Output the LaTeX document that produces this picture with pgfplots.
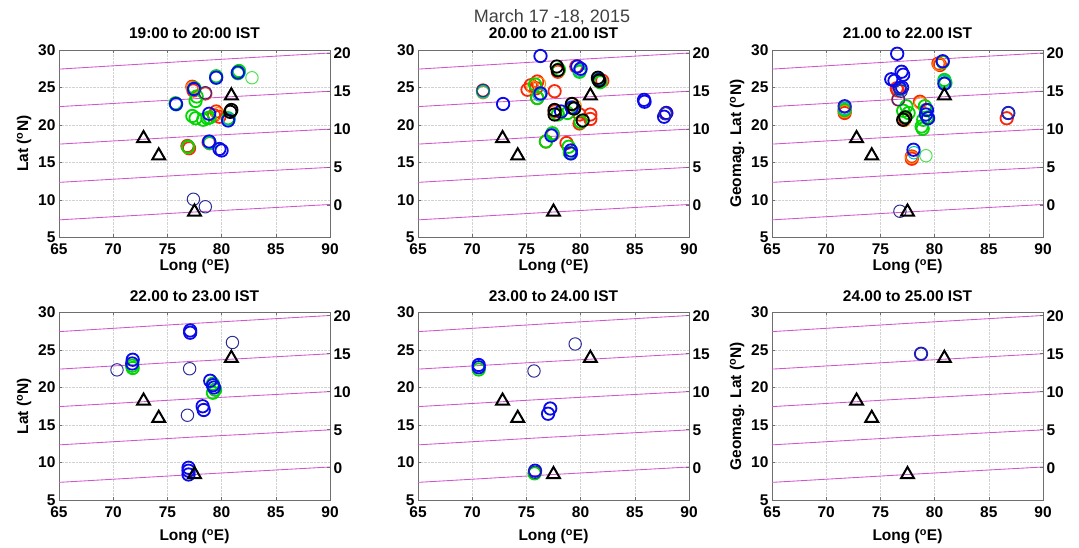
\documentclass[border=0pt]{standalone}
\usepackage{pgfplots}
\pgfplotsset{compat=1.18}
\usepackage{fontspec}
\setmainfont{Liberation Sans}
\definecolor{cred}{RGB}{250,40,10}
\definecolor{corange}{RGB}{255,140,0}
\definecolor{cgreen}{RGB}{0,215,0}
\definecolor{ccyan}{RGB}{0,185,185}
\definecolor{cblue}{RGB}{10,10,235}
\definecolor{cnavy}{RGB}{45,45,150}
\definecolor{cmag}{RGB}{210,85,205}
\definecolor{frame}{RGB}{110,110,110}
\newcommand{\fs}{\fontsize{15.5}{18}\selectfont}
\pgfplotsset{
  base/.style={scale only axis, width=271pt, height=187.5pt,
    xmin=65, xmax=90, ymin=5, ymax=30,
    xtick={65,70,...,90}, ytick={5,10,...,30},
    grid=major, grid style={densely dotted, gray!35},
    axis line style={frame, line width=0.9pt},
    tick style={frame, line width=0.6pt}, tick align=inside,
    major tick length=3pt,
    ytick pos=left, xtick pos=both, xticklabel pos=bottom,
    /pgf/number format/assume math mode=true,
    tick label style={font=\fs\bfseries},
    xticklabel style={yshift=-3pt},
    label style={font=\fs\bfseries},
    title style={font=\fs\bfseries, at={(axis description cs:0.5,1)}, anchor=base, yshift=5pt},
    ylabel style={at={(axis description cs:-0.129,0.5)}, anchor=center, rotate=0},
    clip=false},
  toprow/.style={xlabel style={at={(axis description cs:0.5,-0.155)}, anchor=center}},
  botrow/.style={xlabel style={at={(axis description cs:0.5,-0.197)}, anchor=center}},
  rightax/.style={scale only axis, width=271pt, height=187.5pt,
    xmin=65, xmax=90, ymin=-4.245, ymax=20.43,
    axis y line*=right, axis x line=none, ytick={0,5,...,20},
    axis line style={frame, line width=0.9pt},
    tick style={frame, line width=0.6pt}, tick align=inside, major tick length=3pt,
    /pgf/number format/assume math mode=true,
    tick label style={font=\fs\bfseries}},
  mag/.style={color=cmag, line width=0.85pt, no marks},
  tri/.style={only marks, mark=triangle, mark size=7.5pt, mark options={black, line width=2pt}},
  circ/.style={only marks, mark=o, mark size=6.2pt, mark options={#1, line width=1.8pt}},
  thin/.style={only marks, mark=o, mark size=6.2pt, mark options={#1, line width=1pt}},
}
\newcommand{\maglines}{%
  \addplot[mag] coordinates {(65,27.45) (77.5,28.55) (90,29.6)};
  \addplot[mag] coordinates {(65,22.45) (77.5,23.5) (90,24.5)};
  \addplot[mag] coordinates {(65,17.45) (77.5,18.5) (90,19.45)};
  \addplot[mag] coordinates {(65,12.35) (77.5,13.4) (90,14.35)};
  \addplot[mag] coordinates {(65,7.35) (77.5,8.4) (90,9.4)};
}
\newcommand{\tris}{%
  \addplot[tri] coordinates {(72.8,18.2) (74.2,15.9) (77.5,8.4) (80.9,23.9)};
}
\begin{document}
\begin{tikzpicture}
\path[use as bounding box] (0,0) rectangle (1079pt,548pt);
\node[font=\fontsize{18}{20}\selectfont, text=black!75] at (552pt,531pt) {March 17 -18, 2015};

% ---------- Panel 1 ----------
\begin{axis}[base, toprow, at={(59pt,310.5pt)}, anchor=south west,
  title={19:00 to 20:00 IST}, xlabel={Long (\textsuperscript{o}E)}, ylabel={Lat (\textsuperscript{o}N)}]
\maglines
\addplot[circ=cred] coordinates {(79.5,21.8) (79.8,21.1) (79.3,21.3) (76.85,17.2) (77.0,16.9) (77.3,25.1) (78.5,24.2) (78.8,17.7) (77.4,24.6)};
\addplot[thin=corange] coordinates {(77.3,25.0) (79.6,21.5) (76.9,17.0) (78.9,17.5)};
\addplot[circ=cgreen] coordinates {(75.75,22.9) (77.5,24.9) (77.7,23.8) (77.6,23.2) (77.6,20.9) (78.7,20.9) (78.3,20.7) (76.9,17.1) (79.5,26.5) (81.6,27.2) (81.5,26.9) (80.6,20.9) (77.3,21.2) (78.9,17.6) (78.9,21.0)};
\addplot[thin=cgreen!70] coordinates {(82.8,26.3)};
\addplot[thin=ccyan] coordinates {(75.8,22.7) (79.5,26.4) (80.7,20.8) (78.9,17.6) (81.6,27.0)};
\addplot[circ=cblue] coordinates {(77.45,24.8) (78.85,21.5) (79.8,16.8) (80.0,16.6) (78.85,17.8) (79.5,26.3) (81.5,27.0) (80.6,20.6) (75.8,22.8)};
\addplot[thin=cnavy] coordinates {(77.4,10.1) (78.5,9.1) (78.5,24.3)};
\addplot[circ=black] coordinates {(80.8,21.75) (80.9,22.0)};
\tris
\end{axis}
\begin{axis}[rightax, at={(59pt,310.5pt)}, anchor=south west]
\end{axis}

% ---------- Panel 2 ----------
\begin{axis}[base, toprow, at={(418pt,310.5pt)}, anchor=south west,
  title={20.00 to 21.00 IST}, xlabel={Long (\textsuperscript{o}E)}]
\maglines
\addplot[circ=cred] coordinates {(75.4,25.3) (75.1,24.7) (76.0,25.8) (75.9,24.9) (77.9,27.1) (77.6,24.5) (79.2,22.8) (79.9,21.4) (80.9,21.4) (80.9,20.8) (79.9,20.2) (78.7,17.6) (76.8,17.8) (79.6,27.8) (71.0,24.6) (87.9,21.6) (77.6,21.8) (76.0,23.6) (82.0,25.9)};
\addplot[thin=corange] coordinates {(75.6,25.0) (78.0,27.2) (80.0,27.4) (81.9,25.8) (77.5,18.7) (79.5,22.5) (71.0,24.3) (76.2,25.5)};
\addplot[circ=cgreen] coordinates {(71.0,24.5) (76.3,24.2) (76.0,23.6) (77.4,18.9) (76.8,17.8) (78.9,17.1) (79.0,16.3) (78.8,21.6) (77.9,21.4) (79.9,27.1) (81.6,26.1) (81.8,25.7) (79.4,22.2) (75.8,25.4) (80.0,20.4) (78.0,27.4)};
\addplot[thin=ccyan] coordinates {(71.0,24.4) (76.2,24.0) (77.4,18.7) (79.9,27.3) (81.8,25.9) (79.1,22.4)};
\addplot[circ=cblue] coordinates {(76.3,29.2) (72.85,22.8) (76.3,24.2) (79.1,16.6) (79.1,16.2) (77.3,18.6) (79.7,27.8) (80.0,27.5) (81.7,26.0) (85.85,23.35) (85.9,23.1) (87.7,21.1) (87.9,21.6) (79.2,22.3) (78.2,21.8)};
\addplot[circ=black] coordinates {(77.8,27.8) (77.9,27.3) (81.6,26.3) (81.7,25.9) (77.6,22.0) (77.6,21.4) (79.2,22.8) (79.4,22.2) (80.2,20.6)};
\addplot[thin=cnavy] coordinates {(71.0,24.6) (87.8,21.5)};
\tris
\end{axis}
\begin{axis}[rightax, at={(418pt,310.5pt)}, anchor=south west]
\end{axis}

% ---------- Panel 3 ----------
\begin{axis}[base, toprow, at={(772pt,310.5pt)}, anchor=south west,
  title={21.00 to 22.00 IST}, xlabel={Long (\textsuperscript{o}E)}, ylabel={Geomag. Lat (\textsuperscript{o}N)}]
\maglines
\addplot[circ=cred] coordinates {(76.5,24.9) (76.6,24.6) (78.65,23.1) (77.9,15.8) (77.9,15.5) (80.35,28.2) (80.5,28.0) (71.7,21.6) (71.7,21.9) (86.65,20.9) (77.2,20.8) (76.65,23.4)};
\addplot[thin=corange] coordinates {(71.7,21.8) (78.7,22.9) (80.4,28.1) (77.9,15.7) (77.2,20.6)};
\addplot[circ=cgreen] coordinates {(77.3,21.1) (77.4,22.5) (77.6,21.6) (79.1,22.5) (79.2,22.0) (78.95,20.7) (78.8,19.8) (78.9,19.5) (80.75,28.4) (80.9,26.0) (81.0,25.6) (71.7,22.0) (77.1,21.9) (79.3,21.0)};
\addplot[thin=cgreen!70] coordinates {(79.2,15.9)};
\addplot[thin=ccyan] coordinates {(71.7,22.2) (80.9,25.8) (78.1,16.3) (76.8,24.7)};
\addplot[circ=cblue] coordinates {(76.55,29.5) (76.0,26.1) (76.95,27.1) (77.1,26.7) (76.3,25.9) (76.8,24.9) (79.2,21.4) (79.3,22.0) (79.4,20.9) (78.05,16.7) (80.75,28.5) (80.9,25.5) (71.7,22.5) (86.8,21.6) (77.0,25.0)};
\addplot[circ=black] coordinates {(77.1,20.7) (77.3,21.0)};
\addplot[thin=cnavy] coordinates {(76.65,23.4) (86.8,21.6) (71.7,22.4) (76.8,8.5) (76.9,24.5)};
\tris
\end{axis}
\begin{axis}[rightax, at={(772pt,310.5pt)}, anchor=south west]
\end{axis}

% ---------- Panel 4 ----------
\begin{axis}[base, botrow, at={(59pt,48pt)}, anchor=south west,
  title={22.00 to 23.00 IST}, xlabel={Long (\textsuperscript{o}E)}, ylabel={Lat (\textsuperscript{o}N)}]
\maglines
\addplot[thin=cnavy] coordinates {(70.35,22.35) (77.05,22.5) (81.0,26.0) (76.85,16.3)};
\addplot[circ=cgreen] coordinates {(71.75,22.9) (71.8,22.6) (79.4,19.7) (79.2,19.3) (79.2,20.5)};
\addplot[circ=cblue] coordinates {(71.8,23.7) (71.75,23.2) (77.1,27.6) (77.1,27.3) (78.25,17.5) (78.35,17.0) (78.95,20.9) (79.2,20.3) (76.95,9.3) (76.95,8.9) (76.95,8.4) (79.3,20.0)};
\tris
\end{axis}
\begin{axis}[rightax, at={(59pt,48pt)}, anchor=south west]
\end{axis}

% ---------- Panel 5 ----------
\begin{axis}[base, botrow, at={(418pt,48pt)}, anchor=south west,
  title={23.00 to 24.00 IST}, xlabel={Long (\textsuperscript{o}E)}]
\maglines
\addplot[circ=cgreen] coordinates {(70.6,22.4) (75.75,8.55)};
\addplot[circ=cblue] coordinates {(70.6,23.0) (70.6,22.7) (77.2,17.2) (77.0,16.5) (75.8,8.9)};
\addplot[thin=cnavy] coordinates {(75.7,22.2) (79.5,25.8) (75.8,8.7)};
\tris
\end{axis}
\begin{axis}[rightax, at={(418pt,48pt)}, anchor=south west]
\end{axis}

% ---------- Panel 6 ----------
\begin{axis}[base, botrow, at={(772pt,48pt)}, anchor=south west,
  title={24.00 to 25.00 IST}, xlabel={Long (\textsuperscript{o}E)}, ylabel={Geomag. Lat (\textsuperscript{o}N)}]
\maglines
\addplot[circ=cnavy!60!cblue] coordinates {(78.75,24.5)};
\tris
\end{axis}
\begin{axis}[rightax, at={(772pt,48pt)}, anchor=south west]
\end{axis}
\end{tikzpicture}
\end{document}
